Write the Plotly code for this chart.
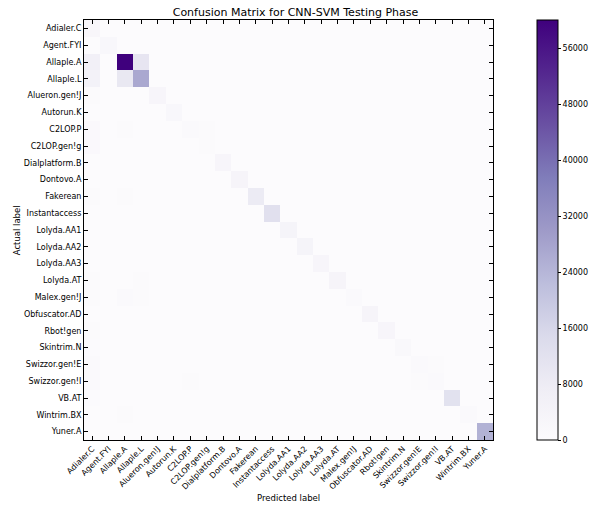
import numpy as np
import plotly.graph_objects as go

classes = [
    "Adialer.C", "Agent.FYI", "Allaple.A", "Allaple.L", "Alueron.gen!J",
    "Autorun.K", "C2LOP.P", "C2LOP.gen!g", "Dialplatform.B", "Dontovo.A",
    "Fakerean", "Instantaccess", "Lolyda.AA1", "Lolyda.AA2", "Lolyda.AA3",
    "Lolyda.AT", "Malex.gen!J", "Obfuscator.AD", "Rbot!gen", "Skintrim.N",
    "Swizzor.gen!E", "Swizzor.gen!I", "VB.AT", "Wintrim.BX", "Yuner.A",
]

# correctly classified counts (diagonal)
correct = [
    2500, 2300, 60100, 27000, 3000,
    2200, 1000, 800, 3000, 3500,
    8500, 12500, 4000, 4000, 3000,
    3500, 900, 3500, 3000, 1500,
    900, 900, 12000, 1000, 25000,
]

# misclassifications: (actual, predicted, count)
confusions = [
    ("Allaple.A", "Adialer.C", 6000),
    ("Allaple.A", "Allaple.L", 10500),
    ("Allaple.L", "Adialer.C", 5000),
    ("Allaple.L", "Allaple.A", 9500),
    ("Alueron.gen!J", "Adialer.C", 500),
    ("C2LOP.P", "Adialer.C", 1400),
    ("C2LOP.P", "Allaple.A", 700),
    ("C2LOP.P", "C2LOP.gen!g", 500),
    ("C2LOP.gen!g", "Adialer.C", 1400),
    ("Fakerean", "Adialer.C", 500),
    ("Fakerean", "Allaple.A", 600),
    ("Lolyda.AT", "Adialer.C", 600),
    ("Lolyda.AT", "Allaple.L", 500),
    ("Malex.gen!J", "Adialer.C", 800),
    ("Malex.gen!J", "Allaple.A", 1300),
    ("Malex.gen!J", "Allaple.L", 600),
    ("Rbot!gen", "Adialer.C", 600),
    ("Skintrim.N", "Adialer.C", 400),
    ("Swizzor.gen!E", "Adialer.C", 1000),
    ("Swizzor.gen!E", "Swizzor.gen!I", 800),
    ("Swizzor.gen!I", "Adialer.C", 900),
    ("Swizzor.gen!I", "C2LOP.P", 700),
    ("Swizzor.gen!I", "Swizzor.gen!E", 800),
    ("VB.AT", "Adialer.C", 400),
    ("Wintrim.BX", "Allaple.A", 700),
]

color_ticks = [0, 8000, 16000, 24000, 32000, 40000, 48000, 56000]

n = len(classes)
idx = {c: i for i, c in enumerate(classes)}
cm = np.zeros((n, n))
for i, v in enumerate(correct):
    cm[i, i] = v
for a, p, v in confusions:
    cm[idx[a], idx[p]] = v

font = "DejaVu Sans"
W, H = 602, 506
L, R, T, B = 84, 95, 20, 66

fig = go.Figure(
    go.Heatmap(
        z=cm,
        x=classes,
        y=classes,
        colorscale="Purples",
        zmin=0,
        zmax=cm.max(),
        colorbar=dict(
            thickness=21,
            len=1.0,
            lenmode="fraction",
            x=(553 - L) / (W - L - R),
            xanchor="left",
            y=0.5,
            yanchor="middle",
            outlinecolor="black",
            outlinewidth=1,
            tickvals=color_ticks,
            ticktext=[str(t) for t in color_ticks],
            ticks="outside",
            ticklen=3,
            tickcolor="black",
            tickfont=dict(family=font, size=8, color="black"),
            xpad=0,
            ypad=0,
        ),
        hovertemplate="Actual: %{y}<br>Predicted: %{x}<br>%{z}<extra></extra>",
    )
)

axis_common = dict(
    showline=True,
    linecolor="black",
    linewidth=1,
    mirror="allticks",
    ticks="inside",
    ticklen=4,
    tickcolor="black",
    showgrid=False,
    zeroline=False,
    automargin=False,
    tickfont=dict(family=font, size=8, color="black"),
)

fig.update_layout(
    width=W,
    height=H,
    margin=dict(l=L, r=R, t=T, b=B),
    paper_bgcolor="white",
    plot_bgcolor="white",
    title=dict(
        text="Confusion Matrix for CNN-SVM Testing Phase",
        font=dict(family=font, size=11, color="black"),
        x=(L + (W - L - R) / 2) / W,
        xanchor="center",
        y=1 - 12 / H,
        yanchor="middle",
    ),
    xaxis=dict(**axis_common, tickangle=-45),
    yaxis=dict(**axis_common, autorange="reversed"),
    annotations=[
        dict(
            text="Predicted label",
            xref="paper", yref="paper",
            x=0.5, y=-(498 - (H - B)) / (H - T - B),
            xanchor="center", yanchor="middle",
            showarrow=False,
            font=dict(family=font, size=8.5, color="black"),
        ),
        dict(
            text="Actual label",
            xref="paper", yref="paper",
            x=-(L - 15) / (W - L - R), y=0.5,
            xanchor="center", yanchor="middle",
            textangle=-90,
            showarrow=False,
            font=dict(family=font, size=8.5, color="black"),
        ),
    ],
)

fig.write_html("out.html")
